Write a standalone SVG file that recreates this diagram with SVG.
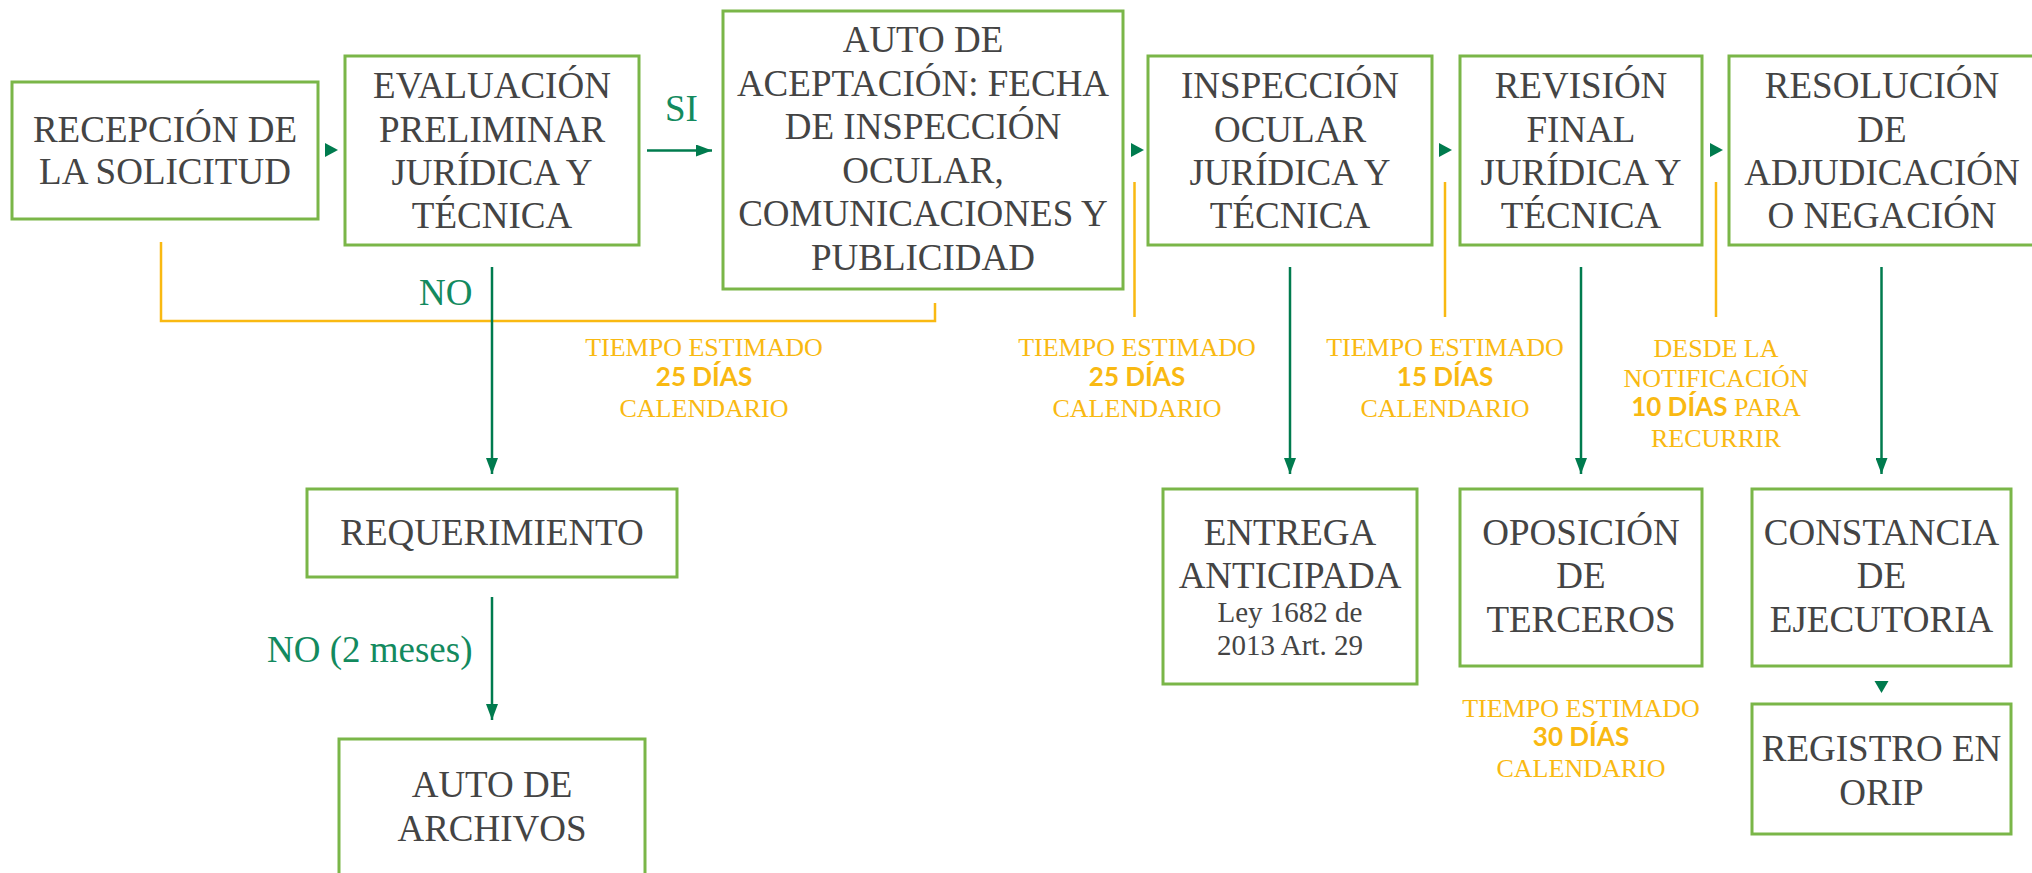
<svg xmlns="http://www.w3.org/2000/svg" width="2032" height="873" viewBox="0 0 2032 873">
<defs>
<style>
.box{fill:#fff;stroke:#7ab648;stroke-width:3}
.t{font-family:"Liberation Serif",serif;font-size:37px;fill:#444;text-anchor:middle}
.ts{font-family:"Liberation Serif",serif;font-size:29px;fill:#444;text-anchor:middle}
.lbl{font-family:"Liberation Serif",serif;font-size:37px;fill:#138a5e}
.y{font-family:"Liberation Serif",serif;font-size:26px;fill:#f9b912;text-anchor:middle}
.yb{font-family:Lato,"Liberation Sans",sans-serif;font-weight:bold}
.cn{fill:none;stroke:#007b4e;stroke-width:2.5}
.yl{fill:none;stroke:#f9b912;stroke-width:2.5}
.ah{fill:#007b4e}
</style>
<marker id="ad" viewBox="0 0 16 12" markerWidth="16" markerHeight="12" refX="16" refY="6" orient="auto" markerUnits="userSpaceOnUse">
<path d="M0,0 L16,6 L0,12 Z" fill="#007b4e"/>
</marker>
</defs>
<rect width="2032" height="873" fill="#fff"/>

<g id="connectors">
<path class="yl" d="M161,242 V321 H935 V303"/>
<path class="yl" d="M1134.5,182 V317"/>
<path class="yl" d="M1445,182 V317"/>
<path class="yl" d="M1716,182 V317"/>
<path class="cn" d="M647,150.5 H712" marker-end="url(#ad)"/>
<path class="cn" d="M492,267 V474" marker-end="url(#ad)"/>
<path class="cn" d="M492,597 V720" marker-end="url(#ad)"/>
<path class="cn" d="M1290,267 V474" marker-end="url(#ad)"/>
<path class="cn" d="M1581,267 V474" marker-end="url(#ad)"/>
<path class="cn" d="M1881.5,267 V474" marker-end="url(#ad)"/>
<path class="ah" d="M325,143 L338,150 L325,157 Z"/>
<path class="ah" d="M1131,143 L1144,150 L1131,157 Z"/>
<path class="ah" d="M1439,143 L1452,150 L1439,157 Z"/>
<path class="ah" d="M1710,143 L1723,150 L1710,157 Z"/>
<path class="ah" d="M1874.5,681 L1888.5,681 L1881.5,693 Z"/>
<text class="lbl" x="665" y="121">SI</text>
<text class="lbl" x="419" y="305">NO</text>
<text class="lbl" x="267" y="662">NO (2 meses)</text>
</g>

<g id="n-recepcion">
<rect class="box" x="12" y="82" width="306" height="137"/>
<text class="t" x="165" y="142">RECEPCIÓN DE</text>
<text class="t" x="165" y="184">LA SOLICITUD</text>
</g>

<g id="n-evaluacion">
<rect class="box" x="345" y="56" width="294" height="189"/>
<text class="t" x="492" y="98">EVALUACIÓN</text>
<text class="t" x="492" y="142">PRELIMINAR</text>
<text class="t" x="492" y="185">JURÍDICA Y</text>
<text class="t" x="492" y="228">TÉCNICA</text>
</g>

<g id="n-auto-aceptacion">
<rect class="box" x="723" y="11" width="400" height="278"/>
<text class="t" x="923" y="52">AUTO DE</text>
<text class="t" x="923" y="96">ACEPTACIÓN: FECHA</text>
<text class="t" x="923" y="139">DE INSPECCIÓN</text>
<text class="t" x="923" y="183">OCULAR,</text>
<text class="t" x="923" y="226">COMUNICACIONES Y</text>
<text class="t" x="923" y="270">PUBLICIDAD</text>
</g>

<g id="n-inspeccion">
<rect class="box" x="1148" y="56" width="284" height="189"/>
<text class="t" x="1290" y="98">INSPECCIÓN</text>
<text class="t" x="1290" y="142">OCULAR</text>
<text class="t" x="1290" y="185">JURÍDICA Y</text>
<text class="t" x="1290" y="228">TÉCNICA</text>
</g>

<g id="n-revision">
<rect class="box" x="1460" y="56" width="242" height="189"/>
<text class="t" x="1581" y="98">REVISIÓN</text>
<text class="t" x="1581" y="142">FINAL</text>
<text class="t" x="1581" y="185">JURÍDICA Y</text>
<text class="t" x="1581" y="228">TÉCNICA</text>
</g>

<g id="n-resolucion">
<rect class="box" x="1729" y="56" width="306" height="189"/>
<text class="t" x="1882" y="98">RESOLUCIÓN</text>
<text class="t" x="1882" y="142">DE</text>
<text class="t" x="1882" y="185">ADJUDICACIÓN</text>
<text class="t" x="1882" y="228">O NEGACIÓN</text>
</g>

<g id="n-requerimiento">
<rect class="box" x="307" y="489" width="370" height="88"/>
<text class="t" x="492" y="545">REQUERIMIENTO</text>
</g>

<g id="n-auto-archivos">
<rect class="box" x="339" y="739" width="306" height="150"/>
<text class="t" x="492" y="797">AUTO DE</text>
<text class="t" x="492" y="841">ARCHIVOS</text>
</g>

<g id="n-entrega">
<rect class="box" x="1163" y="489" width="254" height="195"/>
<text class="t" x="1290" y="545">ENTREGA</text>
<text class="t" x="1290" y="588">ANTICIPADA</text>
<text class="ts" x="1290" y="622">Ley 1682 de</text>
<text class="ts" x="1290" y="655">2013 Art. 29</text>
</g>

<g id="n-oposicion">
<rect class="box" x="1460" y="489" width="242" height="177"/>
<text class="t" x="1581" y="545">OPOSICIÓN</text>
<text class="t" x="1581" y="588">DE</text>
<text class="t" x="1581" y="632">TERCEROS</text>
</g>

<g id="n-constancia">
<rect class="box" x="1752" y="489" width="259" height="177"/>
<text class="t" x="1881.5" y="545">CONSTANCIA</text>
<text class="t" x="1881.5" y="588">DE</text>
<text class="t" x="1881.5" y="632">EJECUTORIA</text>
</g>

<g id="n-registro">
<rect class="box" x="1752" y="704" width="259" height="130"/>
<text class="t" x="1881.5" y="761">REGISTRO EN</text>
<text class="t" x="1881.5" y="805">ORIP</text>
</g>

<g id="notes">
<text class="y" x="704" y="356">TIEMPO ESTIMADO</text>
<text class="y yb" x="704" y="386">25 DÍAS</text>
<text class="y" x="704" y="417">CALENDARIO</text>

<text class="y" x="1137" y="356">TIEMPO ESTIMADO</text>
<text class="y yb" x="1137" y="386">25 DÍAS</text>
<text class="y" x="1137" y="417">CALENDARIO</text>

<text class="y" x="1445" y="356">TIEMPO ESTIMADO</text>
<text class="y yb" x="1445" y="386">15 DÍAS</text>
<text class="y" x="1445" y="417">CALENDARIO</text>

<text class="y" x="1716" y="357">DESDE LA</text>
<text class="y" x="1716" y="387">NOTIFICACIÓN</text>
<text class="y" x="1716" y="416"><tspan class="yb">10 DÍAS</tspan> PARA</text>
<text class="y" x="1716" y="447">RECURRIR</text>

<text class="y" x="1581" y="717">TIEMPO ESTIMADO</text>
<text class="y yb" x="1581" y="746">30 DÍAS</text>
<text class="y" x="1581" y="777">CALENDARIO</text>
</g>
</svg>
